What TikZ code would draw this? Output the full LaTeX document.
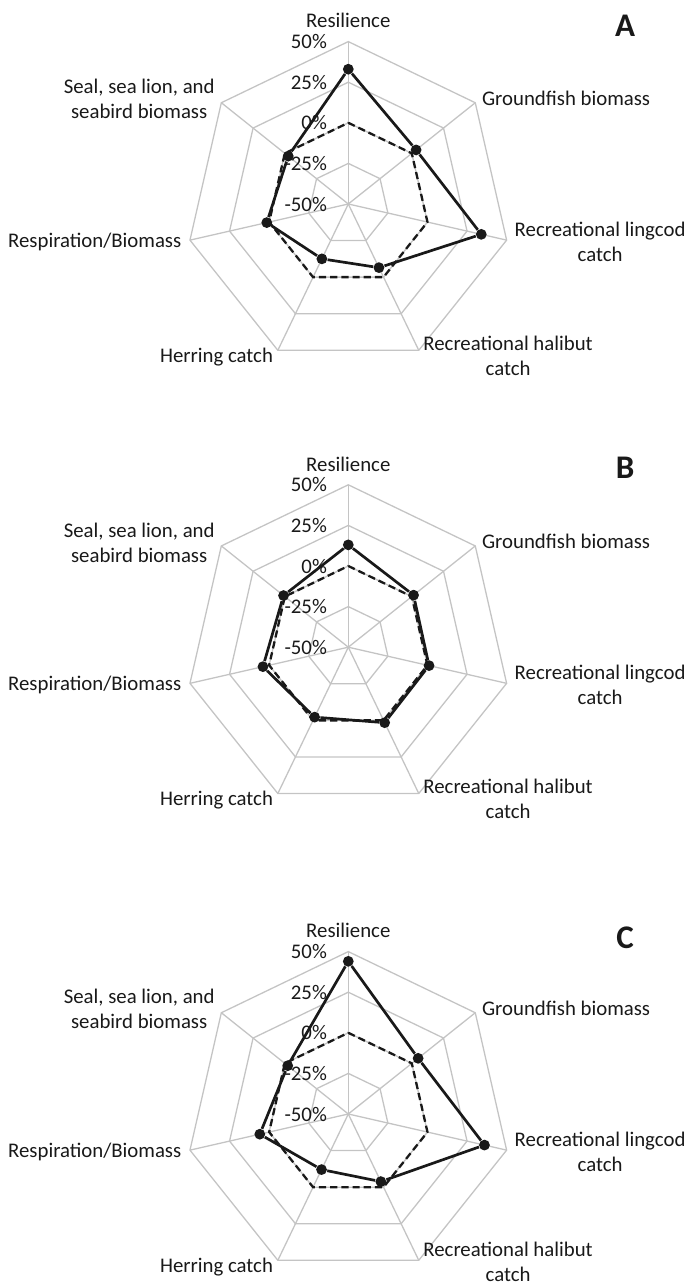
\documentclass[tikz,border=0pt]{standalone}
\usepackage{fontspec}
\setmainfont{Carlito}
\usepackage{xcolor}
\definecolor{gridgray}{RGB}{196,196,196}
\definecolor{ink}{RGB}{25,25,25}

\begin{document}
\begin{tikzpicture}[
x=0.5pt, y=0.5pt,
font=\fontsize{10.4}{12.5}\selectfont,
every node/.style={text=ink, inner sep=0pt},
grid/.style={draw=gridgray, line width=0.65pt},
zero/.style={draw=ink, line width=1.15pt, dash pattern=on 3.6pt off 2pt},
series/.style={draw=ink, line width=1.35pt},
dot/.style={circle, fill=ink, minimum size=5.4pt},
panel/.style={font=\fontsize{16.5}{18}\selectfont\bfseries},
]
\useasboundingbox (0,0) rectangle (688,1287);

%% panel A
\begin{scope}[shift={(348.3,1083)}]
% grid
\foreach \r in {40.6,81.2,121.8,162.4}
  \draw[grid] (90:\r) \foreach \k in {1,...,6}{ -- ({90-\k*360/7}:\r)} -- cycle;
\foreach \k in {0,...,6}
  \draw[grid] (0,0) -- ({90-\k*360/7}:162.4);
% labels
\foreach \t [count=\i from 0] in {-50,-25,0,25,50}
  \node[anchor=east] (pctA\i) at (-21,\i*40.6) {\t\%};
\node (resA) at (0,183.3) {Resilience};
\node[anchor=west] (gfA) at (133.4,106) {Groundfish biomass};
\node[anchor=west, align=center] (lingA) at (166,-37.5) {Recreational lingcod\\catch};
\node[anchor=west, align=center] (halA) at (74.7,-151.8) {Recreational halibut\\catch};
\node[anchor=east] (herA) at (-75,-152.7) {Herring catch};
\node[anchor=east] (respA) at (-166.6,-37.7) {Respiration/Biomass};
\node[anchor=east, align=center] (sealA) at (-133.3,104.8) {Seal, sea lion, and\\seabird biomass};
% data
\draw[zero] (90:81.2) \foreach \k in {1,...,6}{ -- ({90-\k*360/7}:81.2)} -- cycle;
\foreach \v [count=\k from 0] in {33,3.4,34,-6.5,-12.5,1.5,-2.7}
  \node[dot] (a\k) at ({90-\k*360/7}:{(\v+50)*1.624}) {};
\draw[series] (a0) -- (a1) -- (a2) -- (a3) -- (a4) -- (a5) -- (a6) -- (a0);
\end{scope}
\node[panel] (labA) at (625,1261) {A};

%% panel B
\begin{scope}[shift={(348.3,639.8)}]
% grid
\foreach \r in {40.6,81.2,121.8,162.4}
  \draw[grid] (90:\r) \foreach \k in {1,...,6}{ -- ({90-\k*360/7}:\r)} -- cycle;
\foreach \k in {0,...,6}
  \draw[grid] (0,0) -- ({90-\k*360/7}:162.4);
% labels
\foreach \t [count=\i from 0] in {-50,-25,0,25,50}
  \node[anchor=east] (pctB\i) at (-21,\i*40.6) {\t\%};
\node (resB) at (0,183.3) {Resilience};
\node[anchor=west] (gfB) at (133.4,106) {Groundfish biomass};
\node[anchor=west, align=center] (lingB) at (166,-37.5) {Recreational lingcod\\catch};
\node[anchor=west, align=center] (halB) at (74.7,-151.8) {Recreational halibut\\catch};
\node[anchor=east] (herB) at (-75,-152.7) {Herring catch};
\node[anchor=east] (respB) at (-166.6,-37.7) {Respiration/Biomass};
\node[anchor=east, align=center] (sealB) at (-133.3,104.8) {Seal, sea lion, and\\seabird biomass};
% data
\draw[zero] (90:81.2) \foreach \k in {1,...,6}{ -- ({90-\k*360/7}:81.2)} -- cycle;
\foreach \v [count=\k from 0] in {13,1.4,1,1.6,-2.2,3.9,1}
  \node[dot] (b\k) at ({90-\k*360/7}:{(\v+50)*1.624}) {};
\draw[series] (b0) -- (b1) -- (b2) -- (b3) -- (b4) -- (b5) -- (b6) -- (b0);
\end{scope}
\node[panel] (labB) at (625,819) {B};

%% panel C
\begin{scope}[shift={(348.3,173)}]
% grid
\foreach \r in {40.6,81.2,121.8,162.4}
  \draw[grid] (90:\r) \foreach \k in {1,...,6}{ -- ({90-\k*360/7}:\r)} -- cycle;
\foreach \k in {0,...,6}
  \draw[grid] (0,0) -- ({90-\k*360/7}:162.4);
% labels
\foreach \t [count=\i from 0] in {-50,-25,0,25,50}
  \node[anchor=east] (pctC\i) at (-21,\i*40.6) {\t\%};
\node (resC) at (0,183.3) {Resilience};
\node[anchor=west] (gfC) at (133.4,106) {Groundfish biomass};
\node[anchor=west, align=center] (lingC) at (166,-37.5) {Recreational lingcod\\catch};
\node[anchor=west, align=center] (halC) at (74.7,-148) {Recreational halibut\\catch};
\node[anchor=east] (herC) at (-75,-152.7) {Herring catch};
\node[anchor=east] (respC) at (-166.6,-37.7) {Respiration/Biomass};
\node[anchor=east, align=center] (sealC) at (-133.3,104.8) {Seal, sea lion, and\\seabird biomass};
% data
\draw[zero] (90:81.2) \foreach \k in {1,...,6}{ -- ({90-\k*360/7}:81.2)} -- cycle;
\foreach \v [count=\k from 0] in {44,5,36,-3.8,-12,5.9,-2.3}
  \node[dot] (c\k) at ({90-\k*360/7}:{(\v+50)*1.624}) {};
\draw[series] (c0) -- (c1) -- (c2) -- (c3) -- (c4) -- (c5) -- (c6) -- (c0);
\end{scope}
\node[panel] (labC) at (625,349) {C};
\end{tikzpicture}
\end{document}
